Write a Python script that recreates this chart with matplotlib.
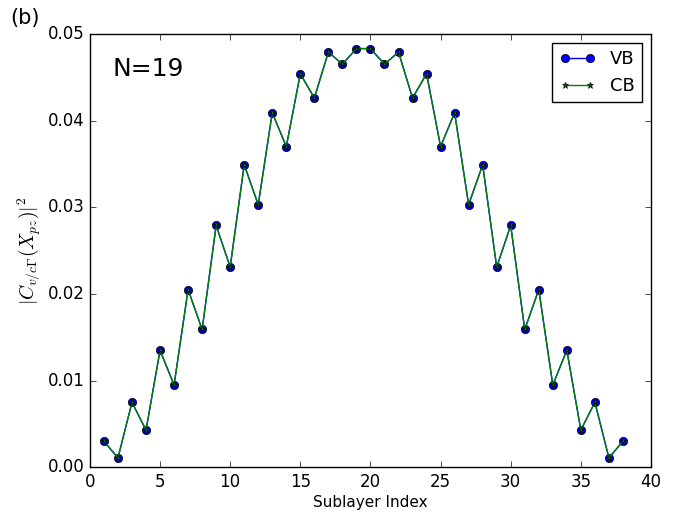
import numpy as np
import matplotlib
matplotlib.use("Agg")
import matplotlib.pyplot as plt

plt.style.use('classic')

# half of the symmetric profile, sublayers 1..19
half = [0.0030, 0.0011, 0.0075, 0.0043, 0.0135, 0.0095, 0.0205, 0.0159,
        0.0279, 0.0231, 0.0349, 0.0303, 0.0409, 0.0370, 0.0454, 0.0426,
        0.0479, 0.0465, 0.0483]
sublayer = np.arange(1, 39)
vb = half + half[::-1]
cb = half + half[::-1]

fig = plt.figure(figsize=(6.76, 5.13), dpi=100, facecolor='white')
ax = fig.add_axes([0.133, 0.089, 0.830, 0.845])

ax.plot(sublayer, vb, 'bo-', markersize=6, label='VB')
ax.plot(sublayer, cb, 'g*-', markersize=5, label='CB')

ax.set_xlim(0, 40)
ax.set_ylim(0, 0.05)
ax.set_xticks(range(0, 41, 5))
ax.set_yticks(np.arange(0, 0.051, 0.01))
ax.set_yticklabels(['0.00', '0.01', '0.02', '0.03', '0.04', '0.05'])
ax.set_xlabel('Sublayer Index', fontsize=11, labelpad=3)
ax.set_ylabel(r'$|C_{v/c\Gamma}(X_{pz})|^2$', fontsize=14, labelpad=3)

ax.text(0.04, 0.92, 'N=19', transform=ax.transAxes, fontsize=18, va='center')
fig.text(0.015, 0.965, '(b)', fontsize=15, va='center')

ax.legend(loc='upper right', fontsize=13, numpoints=2)

fig.savefig('out.png', dpi=100, facecolor='white')
